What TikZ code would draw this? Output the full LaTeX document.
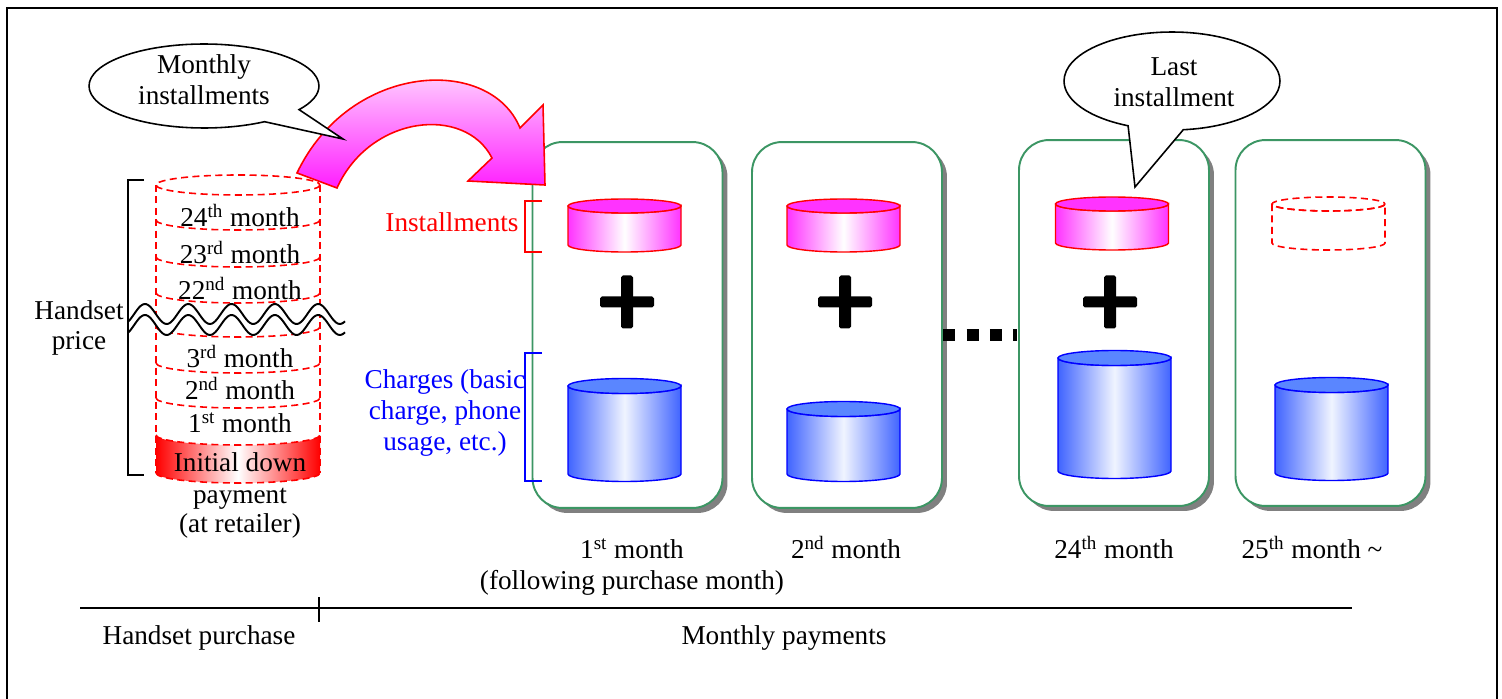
\documentclass[tikz,border=0pt]{standalone}
\usepackage{fontspec}
\setmainfont{Liberation Serif}
\usetikzlibrary{shapes.callouts,shadows}

% cylinder: side style, top style, cx, rx, ytop, ybot, ry
\newcommand{\drawcyl}[7]{%
  \path[#1] (#3-#4,#5) -- (#3-#4,#6) arc[start angle=180,end angle=0,x radius=#4,y radius=#7]
    -- (#3+#4,#5) arc[start angle=0,end angle=180,x radius=#4,y radius=#7] -- cycle;%
  \path[#2] (#3,#5) ellipse[x radius=#4,y radius=#7];%
}

\begin{document}
\begin{tikzpicture}[x=0.02cm,y=-0.02cm,font=\fontsize{15.5}{17.5}\selectfont,
    dashcyl/.style={draw=r255g0b0,dash pattern=on 4pt off 2.5pt,line width=0.9pt},
    pinkside/.style={draw=r255g0b0,line width=0.8pt,left color=r255g51b255,right color=r255g51b255,middle color=white},
    pinktop/.style={draw=r255g0b0,line width=0.8pt,fill=r255g51b255},
    blueside/.style={draw=r0g0b255,line width=0.8pt,left color=r64g100b255,right color=r64g100b255,middle color=r240g244b255},
    bluetop/.style={draw=r0g0b255,line width=0.8pt,fill=r90g134b255},
    monthbox/.style={draw=r60g150b100,line width=1.1pt,fill=white,rounded corners=0.6cm,
      minimum width=3.8cm,minimum height=7.32cm,
      drop shadow={shadow xshift=0.1cm,shadow yshift=-0.1cm,fill=r128g128b128,opacity=1}},
    bubble/.style={ellipse callout,draw,line width=0.9pt,fill=white,align=center,inner sep=0pt},
    lbl/.style={text height=13pt,text depth=2pt,inner sep=0pt}]

  % Changing colors
  \definecolor{r255g0b0}{RGB}{255,0,0}%
  \definecolor{r0g0b255}{RGB}{0,0,255}%
  \definecolor{r255g51b255}{RGB}{255,51,255}%
  \definecolor{r255g235b255}{RGB}{255,235,255}%
  \definecolor{r255g30b255}{RGB}{255,30,255}%
  \definecolor{r64g100b255}{RGB}{64,100,255}%
  \definecolor{r240g244b255}{RGB}{240,244,255}%
  \definecolor{r90g134b255}{RGB}{90,134,255}%
  \definecolor{r60g150b100}{RGB}{60,150,100}%
  \definecolor{r128g128b128}{RGB}{128,128,128}%

  \useasboundingbox (0,0) rectangle (1502,699);

  % Drawing frame
  \draw[line width=1.3pt] (7,705) -- (7,8) -- (1497,8) -- (1497,705);

  % Drawing month boxes
  \node[monthbox] (box1) at (627.5,325) {};
  \node[monthbox] (box2) at (847,325) {};
  \node[monthbox] (box24) at (1114,323) {};
  \node[monthbox] (box25) at (1330.5,323) {};

  % Drawing dots between boxes
  \draw[line width=0.26cm,dash pattern=on 0.24cm off 0.23cm] (943,335) -- (1017,335);

  % Drawing installments
  \drawcyl{pinkside}{pinktop}{624.5}{56.5}{206}{245}{7}
  \drawcyl{pinkside}{pinktop}{843.5}{56.5}{206}{245}{7}
  \drawcyl{pinkside}{pinktop}{1112}{56.5}{204}{243}{7}
  \drawcyl{dashcyl}{dashcyl}{1328.5}{56.5}{204}{243}{7}

  % Drawing charges
  \drawcyl{blueside}{bluetop}{624.5}{56.5}{386}{474}{7.5}
  \drawcyl{blueside}{bluetop}{843.5}{56.5}{409}{474}{7.5}
  \drawcyl{blueside}{bluetop}{1114.5}{56.5}{358}{471}{7.5}
  \drawcyl{blueside}{bluetop}{1331.5}{56.5}{385}{473}{7.5}

  % Marking plus signs
  \foreach \px in {627,845,1110}{
    \fill[rounded corners=1pt] (\px-27,302-5.5) rectangle (\px+27,302+5.5);
    \fill[rounded corners=1pt] (\px-6,302-26.5) rectangle (\px+6,302+26.5);
  }

  % Drawing brackets
  \draw[r255g0b0,line width=1pt] (542,201) -- (525,201) -- (525,252) -- (542,252);
  \draw[r0g0b255,line width=1pt] (542,353) -- (525,353) -- (525,481) -- (542,481);
  \node[r255g0b0,lbl] (inst) at (452,222) {Installments};
  \node[r0g0b255,align=center,inner sep=0pt] (charges) at (445,413) {Charges (basic\\charge, phone\\usage, etc.)};

  % Drawing handset price stack
  \path[left color=r255g0b0,right color=r255g0b0,middle color=white]
    (156,435) arc[start angle=180,end angle=0,x radius=82,y radius=10]
    -- (320,473) arc[start angle=0,end angle=180,x radius=82,y radius=10] -- cycle;
  \draw[dashcyl] (156,185) -- (156,473);
  \draw[dashcyl] (320,185) -- (320,473);
  \draw[dashcyl] (238,185) ellipse[x radius=82,y radius=10];
  \foreach \yy in {220,257,293,327,363,398,435,473}
    \draw[dashcyl] (156,\yy) arc[start angle=180,end angle=0,x radius=82,y radius=10];

  % Drawing break
  \fill[white] plot[domain=128:345,samples=120] (\x,{314-10*cos(8.314*(\x-145))})
    -- plot[domain=345:128,samples=120] (\x,{325-10*cos(8.314*(\x-145))}) -- cycle;
  \draw[line width=1.1pt] plot[domain=128:345,samples=120] (\x,{314-10*cos(8.314*(\x-145))});
  \draw[line width=1.1pt] plot[domain=128:345,samples=120] (\x,{325-10*cos(8.314*(\x-145))});

  % Marking stack months
  \node[lbl] (m24) at (240,217) {24\textsuperscript{th} month};
  \node[lbl] (m23) at (240,254) {23\textsuperscript{rd} month};
  \node[lbl] (m22) at (240,290) {22\textsuperscript{nd} month};
  \node[lbl] (m3) at (240,358) {3\textsuperscript{rd} month};
  \node[lbl] (m2) at (240,390) {2\textsuperscript{nd} month};
  \node[lbl] (m1) at (240,423) {1\textsuperscript{st} month};
  \node[lbl] (down) at (240,462) {Initial down};
  \node[lbl] (downb) at (240,494) {payment};
  \node[lbl] (downc) at (240,523) {(at retailer)};

  % Drawing handset price bracket
  \draw[line width=1.1pt] (144,180) -- (128,180) -- (128,475) -- (144,475);
  \node[align=center,inner sep=0pt] (price) at (79,328) {Handset\\price};

  % Drawing arrow
  \draw[r255g0b0,line width=0.9pt,top color=r255g235b255,bottom color=r255g30b255]
    (297,173) .. controls (350,62) and (490,55) .. (520,128) -- (543,105) -- (545,185)
    -- (468,181) -- (492,158) .. controls (465,105) and (370,115) .. (337,188) -- cycle;

  % Drawing callouts
  \node[bubble,minimum width=4.6cm,minimum height=1.68cm,callout pointer arc=24,
    callout absolute pointer={(343,139)}] (monthly) at (204,86) {};
  \node[align=center,inner sep=0pt] (monthlytxt) at (204,80) {Monthly\\installments};
  \node[bubble,minimum width=4.32cm,minimum height=1.96cm,callout pointer arc=30,
    callout absolute pointer={(1135,187)}] (last) at (1172,81) {};
  \node[align=center,inner sep=0pt] (lasttxt) at (1174,82) {Last\\installment};

  % Marking months
  \node[lbl] (lab1) at (632,549) {1\textsuperscript{st} month};
  \node[lbl] (lab1b) at (632,580) {(following purchase month)};
  \node[lbl] (lab2) at (846,549) {2\textsuperscript{nd} month};
  \node[lbl] (lab24) at (1114,549) {24\textsuperscript{th} month};
  \node[lbl] (lab25) at (1312,549) {25\textsuperscript{th} month \textasciitilde};

  % Drawing time line
  \coordinate (tl0) at (80,608);
  \coordinate (tl1) at (1352,608);
  \draw[line width=1.4pt] (tl0) -- (tl1);
  \draw[line width=0.6pt] (319,597) -- (319,622);
  \node[lbl] (purchase) at (199,635) {Handset purchase};
  \node[lbl] (payments) at (784,635) {Monthly payments};
\end{tikzpicture}
\end{document}
